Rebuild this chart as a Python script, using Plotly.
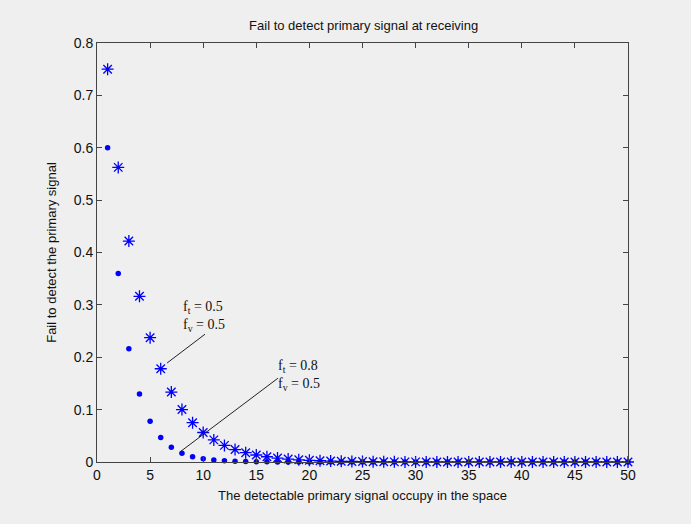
import plotly.graph_objects as go

n_values = list(range(1, 51))
fail_ft05 = [0.75, 0.5625, 0.4219, 0.3164, 0.2373, 0.178, 0.1335, 0.1001, 0.0751, 0.0563,
             0.0422, 0.0317, 0.0238, 0.0178, 0.0134, 0.01, 0.0075, 0.0056, 0.0042, 0.0032,
             0.0024, 0.0018, 0.0013, 0.001, 0.0008, 0.0006, 0.0004, 0.0003, 0.0002, 0.0002,
             0.0001, 0.0001, 0.0001, 0.0, 0.0, 0.0, 0.0, 0.0, 0.0, 0.0,
             0.0, 0.0, 0.0, 0.0, 0.0, 0.0, 0.0, 0.0, 0.0, 0.0]
fail_ft08 = [0.6, 0.36, 0.216, 0.1296, 0.0778, 0.0467, 0.028, 0.0168, 0.0101, 0.006,
             0.0036, 0.0022, 0.0013, 0.0008, 0.0005, 0.0003, 0.0002, 0.0001, 0.0001, 0.0,
             0.0, 0.0, 0.0, 0.0, 0.0, 0.0, 0.0, 0.0, 0.0, 0.0,
             0.0, 0.0, 0.0, 0.0, 0.0, 0.0, 0.0, 0.0, 0.0, 0.0,
             0.0, 0.0, 0.0, 0.0, 0.0, 0.0, 0.0, 0.0, 0.0, 0.0]

x_ticks = [0, 5, 10, 15, 20, 25, 30, 35, 40, 45, 50]
y_ticks = [0, 0.1, 0.2, 0.3, 0.4, 0.5, 0.6, 0.7, 0.8]
y_tick_labels = ["0", "0.1", "0.2", "0.3", "0.4", "0.5", "0.6", "0.7", "0.8"]

label_texts = ["f<sub>t</sub> = 0.5<br>f<sub>v</sub> = 0.5",
               "f<sub>t</sub> = 0.8<br>f<sub>v</sub> = 0.5"]
label_pos = [(7.9, 0.241), (16.9, 0.128)]
pointer_lines = [((6.6, 0.189), (10.17, 0.244)), ((7.8, 0.019), (17.04, 0.16))]

BG = "#efefef"
AX = "#444444"
BLUE = "#0000ff"

fig = go.Figure()
fig.add_trace(go.Scatter(x=n_values, y=fail_ft05, mode="markers",
                         marker=dict(symbol="asterisk-open", size=10, color=BLUE,
                                     line=dict(color=BLUE, width=1.3)),
                         cliponaxis=False, showlegend=False))
fig.add_trace(go.Scatter(x=n_values, y=fail_ft08, mode="markers",
                         marker=dict(symbol="circle", size=5.5, color=BLUE),
                         cliponaxis=False, showlegend=False))

for (x0, y0), (x1, y1) in pointer_lines:
    fig.add_shape(type="line", xref="x", yref="y", x0=x0, y0=y0, x1=x1, y1=y1,
                  line=dict(color="#222222", width=1))

for txt, (xp, yp) in zip(label_texts, label_pos):
    fig.add_annotation(x=xp, y=yp, xref="x", yref="y", text=txt, showarrow=False,
                       xanchor="left", yanchor="bottom", align="left",
                       font=dict(family="Liberation Serif", size=14, color="#111111"))

axis_common = dict(showline=True, linecolor=AX, linewidth=1, mirror="allticks",
                   ticks="inside", ticklen=5, tickcolor=AX, showgrid=False,
                   zeroline=False,
                   tickfont=dict(family="Liberation Sans", size=14, color="#111111"))

fig.update_xaxes(range=[0, 50], tickvals=x_ticks,
                 title=dict(text="The detectable primary signal occupy in the space",
                            font=dict(family="Liberation Sans", size=13, color="#111111"),
                            standoff=9),
                 **axis_common)
fig.update_yaxes(range=[0, 0.8], tickvals=y_ticks, ticktext=y_tick_labels,
                 title=dict(text="Fail to detect the primary signal",
                            font=dict(family="Liberation Sans", size=13, color="#111111"),
                            standoff=14),
                 **axis_common)

fig.update_layout(
    width=691, height=524,
    paper_bgcolor=BG, plot_bgcolor=BG,
    margin=dict(l=97, r=63, t=43, b=62),
    title=dict(text="Fail to detect primary signal at receiving", x=0.5262, xanchor="center",
               y=0.952, yanchor="middle",
               font=dict(family="Liberation Sans", size=13, color="#111111")),
)

fig.write_html("out.html", config={"displayModeBar": False},
               post_script="document.body.style.margin='0';document.body.style.background='#efefef';")
